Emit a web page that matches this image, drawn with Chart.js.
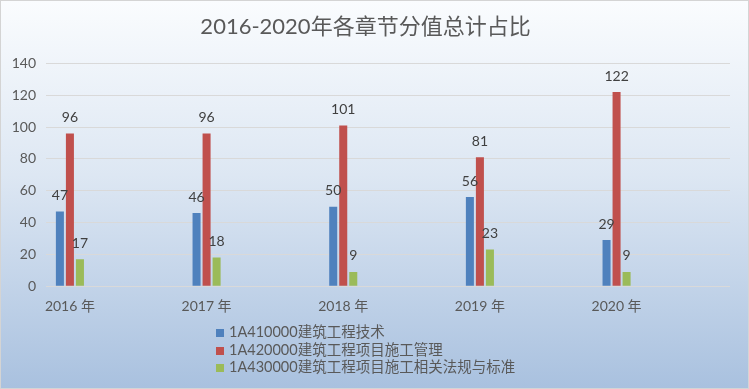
<!DOCTYPE html>
<html>
<head>
<meta charset="utf-8">
<script src="https://cdn.jsdelivr.net/npm/chart.js@4/dist/chart.umd.min.js"></script>
<style>
  html, body { margin: 0; padding: 0; }
  #wrap {
    position: relative;
    width: 747px;
    height: 387px;
    border: 1px solid #d4d4d4;
    background: linear-gradient(to bottom, #fafcfe 0%, #dde7f3 45%, #a9c1df 100%);
    font-family: Lato, "Noto Sans CJK SC", sans-serif;
  }
  #chart { position: absolute; left: 0; top: 0; }
  #legend {
    position: absolute;
    left: 215px;
    top: 322px;
    font-size: 14.5px;
    color: #595959;
    line-height: 17.5px;
  }
  #legend span.box {
    display: inline-block;
    width: 8px;
    height: 8px;
    margin-right: 5px;
    vertical-align: 0px;
  }
</style>
</head>
<body>
<div id="wrap">
  <canvas id="chart" width="747" height="387"></canvas>
  <div id="legend"></div>
</div>
<script>
// data
var years = ["2016 年", "2017 年", "2018 年", "2019 年", "2020 年"];
var seriesNames = [
  "1A410000建筑工程技术",
  "1A420000建筑工程项目施工管理",
  "1A430000建筑工程项目施工相关法规与标准"
];
var tech = [47, 46, 50, 56, 29];
var manage = [96, 96, 101, 81, 122];
var law = [17, 18, 9, 23, 9];
var colors = ["#4f81bd", "#c0504d", "#9bbb59"];

var fontFamily = 'Lato, "Noto Sans CJK SC", sans-serif';

function toPoints(values) {
  return values.map(function (v, i) {
    return { x: i, y: v };
  });
}

// draws the value above each bar
var valueLabels = {
  id: "valueLabels",
  afterDatasetsDraw: function (chart) {
    var ctx = chart.ctx;
    ctx.save();
    ctx.font = "14px " + fontFamily;
    ctx.fillStyle = "#404040";
    ctx.textAlign = "center";
    ctx.textBaseline = "bottom";
    chart.data.datasets.forEach(function (ds, di) {
      chart.getDatasetMeta(di).data.forEach(function (bar, i) {
        ctx.fillText(ds.data[i].y, bar.x, bar.y - 9);
      });
    });
    ctx.restore();
  }
};

var ctx = document.getElementById("chart").getContext("2d");
var chart = new Chart(ctx, {
  type: "bar",
  data: {
    datasets: [tech, manage, law].map(function (vals, i) {
      return {
        label: seriesNames[i],
        data: toPoints(vals),
        backgroundColor: colors[i],
        categoryPercentage: 0.22,
        barPercentage: 0.8
      };
    })
  },
  options: {
    responsive: false,
    animation: false,
    layout: { padding: { left: 0, right: 18, top: 0, bottom: 69 } },
    plugins: {
      legend: { display: false },
      tooltip: { enabled: false },
      title: {
        display: true,
        text: "2016-2020年各章节分值总计占比",
        color: "#595959",
        font: { family: fontFamily, size: 22, weight: "normal" },
        padding: { top: 13, bottom: 23 }
      }
    },
    scales: {
      x: {
        type: "linear",
        min: -0.175,
        max: 4.83,
        offset: false,
        grid: { display: false, offset: false },
        border: { display: false },
        afterBuildTicks: function (scale) {
          scale.ticks = years.map(function (y, i) {
            return { value: i };
          });
        },
        ticks: {
          color: "#595959",
          font: { family: fontFamily, size: 14 },
          padding: 4,
          callback: function (value) {
            return years[value];
          }
        }
      },
      y: {
        min: 0,
        max: 140,
        afterFit: function (scale) {
          scale.width = 45;
        },
        grid: { color: "#d9d9d9", drawTicks: false },
        border: { display: false },
        ticks: {
          stepSize: 20,
          color: "#595959",
          font: { family: fontFamily, size: 14 },
          padding: 10
        }
      }
    }
  },
  plugins: [valueLabels]
});

// legend as a vertical list under the chart
var legend = document.getElementById("legend");
seriesNames.forEach(function (name, i) {
  var row = document.createElement("div");
  var box = document.createElement("span");
  box.className = "box";
  box.style.background = colors[i];
  row.appendChild(box);
  row.appendChild(document.createTextNode(name));
  legend.appendChild(row);
});
</script>
</body>
</html>
